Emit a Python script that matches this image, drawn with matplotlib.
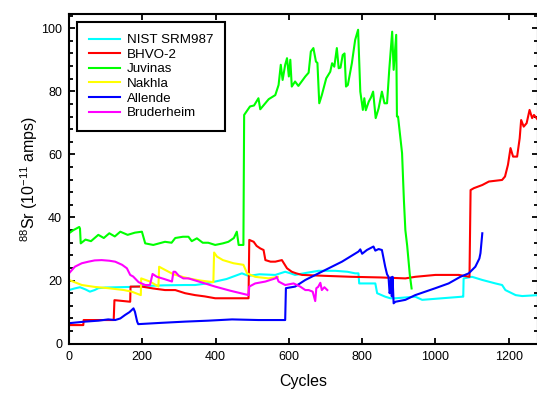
import matplotlib
matplotlib.use("Agg")
import matplotlib.pyplot as plt
from matplotlib.ticker import MultipleLocator

plt.rcParams['font.family'] = ['Liberation Sans', 'DejaVu Sans']
plt.rcParams['mathtext.fontset'] = 'custom'
plt.rcParams['mathtext.rm'] = 'Liberation Sans'
plt.rcParams['mathtext.it'] = 'Liberation Sans:italic'
plt.rcParams['mathtext.bf'] = 'Liberation Sans:bold'

# ---- data ----
nist_x = [0, 15, 30, 45, 57, 70, 80, 100, 135, 170, 208, 260, 317, 344, 370, 399, 430, 472, 490, 520,
          563, 590, 605, 617, 650, 681, 727, 760, 781, 790, 792, 836, 841, 863, 877, 891, 945, 964,
          1018, 1073, 1076, 1077, 1100, 1128, 1164, 1182, 1191, 1219, 1237, 1280]
nist_y = [17, 17.5, 17.9, 17.2, 16.5, 17, 17.6, 17.8, 17.9, 18, 18.3, 18.5, 18.6, 18.6, 19, 19.7, 20.5,
          22.3, 21.5, 22, 21.8, 22.8, 22.3, 21.8, 22.5, 23.1, 23.1, 22.8, 22.3, 22.3, 19.1, 19.1, 16,
          14.9, 14.4, 14.4, 14.9, 13.9, 14.4, 14.9, 14.9, 20.7, 21.2, 20.2, 19.1, 18.6, 17, 15.4, 15.1, 15.4]

bhvo_x = [0, 39, 40, 122, 124, 150, 167, 168, 199, 230, 262, 290, 317, 344, 370, 399, 450, 490, 492,
          504, 512, 522, 531, 536, 550, 563, 581, 595, 608, 620, 636, 700, 772, 850, 918, 945, 1000,
          1064, 1093, 1096, 1105, 1128, 1146, 1182, 1190, 1198, 1205, 1212, 1223, 1230, 1234, 1241,
          1249, 1257, 1264, 1269, 1280]
bhvo_y = [5.9, 5.9, 7.5, 7.5, 13.8, 13.5, 13.3, 18.1, 18.1, 17.5, 17, 17, 16, 15.4, 15, 14.4, 14.4, 14.4,
          32.9, 32.3, 31, 30.2, 29.7, 26.5, 26, 26, 26.5, 23.9, 22.8, 22.3, 21.8, 21.5, 21.2, 21, 20.7,
          21.2, 21.8, 21.8, 21.2, 48.7, 49.3, 50.3, 51.4, 51.9, 53, 56.7, 62, 59.3, 59.3, 65.1, 70.9,
          68.8, 69.9, 74.1, 71.5, 72.5, 70.9]

juv_x = [0, 12, 28, 30, 32, 45, 60, 80, 95, 110, 125, 140, 160, 180, 199, 208, 230, 262, 280, 290,
         311, 326, 335, 349, 365, 380, 399, 420, 435, 450, 458, 463, 476, 478, 494, 505, 517, 522,
         545, 563, 572, 578, 583, 590, 595, 600, 604, 608, 617, 626, 645, 654, 660, 667, 674, 678,
         683, 690, 702, 713, 718, 724, 731, 736, 741, 747, 752, 756, 761, 772, 781, 789, 795, 802,
         806, 810, 818, 824, 830, 837, 845, 854, 861, 868, 874, 882, 886, 893, 895, 898, 909, 914,
         918, 923, 930, 935]
juv_y = [35, 36, 37, 36.5, 31.8, 33, 32.5, 34.5, 33.5, 35, 34, 35.5, 34.5, 35.2, 35.5, 31.8, 31.3,
         32.3, 32, 33.5, 33.9, 33.9, 32.5, 33.4, 32, 32, 31.3, 31.8, 32.3, 33.5, 35.5, 31.3, 31.3,
         72.5, 75.2, 75.5, 77.8, 74.3, 77.5, 78.8, 82, 88.4, 83.6, 88.4, 90.5, 84.7, 90, 81.5, 83.1,
         81.7, 84.7, 85.9, 92.6, 93.7, 89.4, 89, 76.2, 78.8, 84.1, 86.2, 88.9, 87.8, 93.7, 87.3, 87.5,
         91.5, 92, 81.5, 82, 88.9, 96.3, 99.5, 79.9, 74.1, 77.8, 74, 76.7, 78, 79.9, 71.5, 74.6, 79.9,
         76.2, 76.2, 86.8, 98.9, 86.8, 97.9, 72, 72, 60.4, 45.5, 36, 31, 22, 17.5]

nak_x = [0, 35, 70, 107, 150, 171, 196, 197, 221, 244, 246, 262, 285, 300, 326, 360, 394, 396, 404,
         420, 449, 476, 486, 508, 545, 570]
nak_y = [20.2, 18.6, 18, 17.6, 17, 16.5, 15.4, 20.7, 19.7, 18.1, 24.4, 23.4, 22, 21.5, 20.7, 20, 19.5,
         28.9, 27.6, 26.5, 25.5, 25, 22.3, 21.2, 20.7, 21.2]

all_x = [0, 44, 80, 107, 126, 140, 153, 165, 176, 180, 186, 189, 250, 317, 380, 445, 517, 590, 592,
         617, 645, 681, 745, 790, 795, 800, 813, 831, 836, 845, 854, 863, 868, 872, 875, 877, 879,
         881, 883, 886, 891, 918, 945, 1000, 1036, 1068, 1091, 1109, 1120, 1123, 1128]
all_y = [6.5, 7, 7.3, 7.7, 7.5, 8, 9.1, 10, 11.2, 10.1, 7, 6.2, 6.6, 7, 7.3, 7.7, 7.5, 7.5, 17.6,
         18.1, 20.2, 22.3, 26, 29.2, 29.9, 28.5, 29.7, 30.8, 29.5, 30, 29.7, 24.4, 22, 21.2, 16, 17,
         21, 15, 21.2, 12.8, 13.3, 13.9, 15.4, 17.6, 19.1, 21.2, 22.3, 24.4, 27, 28.7, 35]

bru_x = [0, 16, 35, 53, 70, 89, 110, 126, 145, 158, 167, 175, 190, 208, 221, 228, 240, 260, 281, 285,
         290, 300, 312, 326, 360, 399, 440, 490, 492, 508, 536, 563, 567, 572, 590, 613, 631, 645,
         654, 665, 672, 675, 680, 686, 690, 697, 705]
bru_y = [22.3, 24.4, 25.5, 26, 26.4, 26.5, 26.3, 26, 25, 23.9, 21.8, 21.3, 19.5, 18.6, 18.6, 22.1,
         21.2, 20.5, 19.7, 22.8, 22.8, 21.5, 20.7, 20.7, 19.5, 18.1, 16.8, 15.4, 18.1, 19.1, 19.7,
         20.7, 21.2, 19.7, 18.6, 19.1, 18.1, 17, 17, 16.5, 13.5, 17.6, 18, 19.3, 17, 17.9, 17]

series = [
    ("NIST SRM987", nist_x, nist_y, "#00FFFF"),
    ("BHVO-2", bhvo_x, bhvo_y, "#FF0000"),
    ("Juvinas", juv_x, juv_y, "#00FF00"),
    ("Nakhla", nak_x, nak_y, "#FFFF00"),
    ("Allende", all_x, all_y, "#0000FF"),
    ("Bruderheim", bru_x, bru_y, "#FF00FF"),
]

fig = plt.figure(figsize=(5.37, 3.94), dpi=100)
ax = fig.add_axes([69/537, 50.3/394, 469/537, 329.7/394])

for name, xs, ys, c in series:
    ax.plot(xs, ys, color=c, lw=1.5, label=name)

ax.set_xlim(0, 1280)
ax.set_ylim(0, 104.5)
ax.xaxis.set_major_locator(MultipleLocator(200))
ax.yaxis.set_major_locator(MultipleLocator(20))
ax.yaxis.set_minor_locator(MultipleLocator(4))

for s in ax.spines.values():
    s.set_linewidth(1.5)
ax.tick_params(which='both', direction='in', top=True, right=True, width=1.3, labelsize=9)
ax.tick_params(which='major', length=4, pad=5)
ax.tick_params(which='minor', length=3)

ax.set_xlabel("Cycles", fontsize=11.5, labelpad=8)
ax.set_ylabel("$^{88}$Sr (10$^{-11}$ amps)", fontsize=11.5, labelpad=1)

leg = ax.legend(loc='upper left', bbox_to_anchor=(0.017, 0.976), borderaxespad=0,
                fontsize=9.6, fancybox=False, framealpha=1, edgecolor='black',
                handlelength=2.3, handletextpad=0.55, labelspacing=0.17, borderpad=0.9)
leg.get_frame().set_linewidth(1.5)

fig.savefig("out.png", dpi=100)
